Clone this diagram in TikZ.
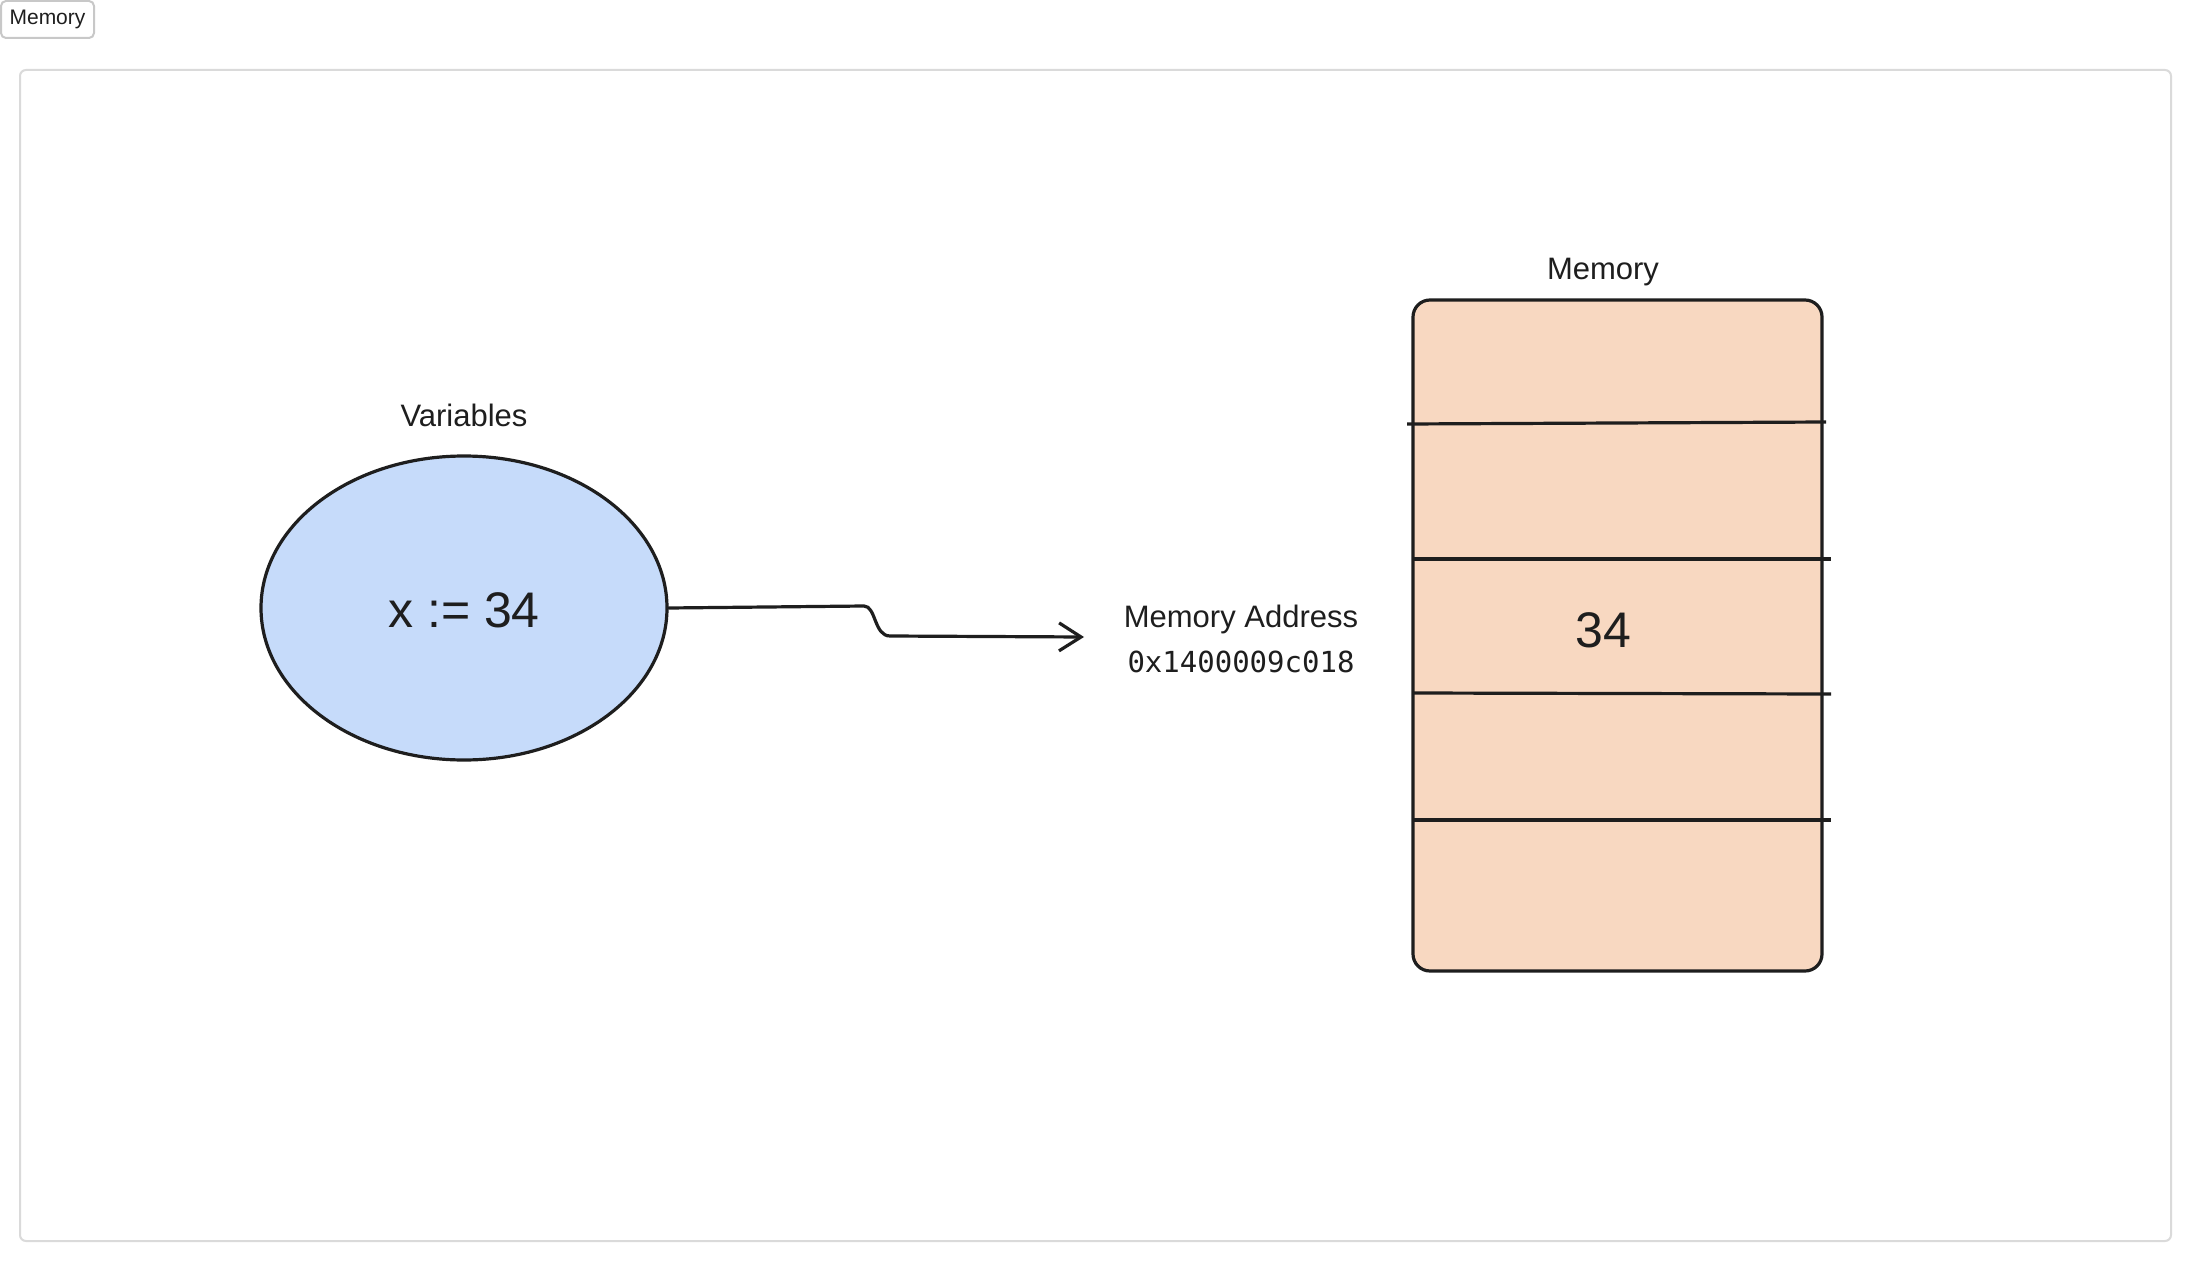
\documentclass[tikz,border=0pt]{standalone}
\usepackage{fontspec}
\setmainfont{Liberation Sans}
\newfontfamily\addrfont{DejaVu Sans Mono}
\usetikzlibrary{shapes.geometric,arrows.meta}
\definecolor{ink}{HTML}{1E1E1E}
\definecolor{varfill}{HTML}{C6DBFA}
\definecolor{memfill}{HTML}{F8D8C1}
\definecolor{framegray}{HTML}{DADADA}
\definecolor{btngray}{HTML}{C8C8C8}
\begin{document}
\begin{tikzpicture}[x=0.5pt,y=-0.5pt,
  sketch/.style={draw=ink, line width=1.6pt},
  lbl/.style={text=ink, font=\fontsize{15.5}{18}\selectfont, anchor=base, inner sep=0pt},
  big/.style={text=ink, font=\fontsize{25}{30}\selectfont, anchor=base, inner sep=0pt}]
\useasboundingbox (0,0) rectangle (2191,1263);
\fill[white] (0,0) rectangle (2191,1263);
% outer frame
\draw[framegray, line width=1pt, rounded corners=3pt] (20,70) rectangle (2171,1241);
% tab button
\node[draw=btngray, line width=1pt, rounded corners=2.5pt, minimum width=46.5pt, minimum height=18.5pt, inner sep=0pt, fill=white, text=ink, font=\fontsize{10.5}{12}\selectfont] (btn) at (47.5,19.5) {Memory};
% variables
\node[lbl] (varlbl) at (464,426) {Variables};
\node[ellipse, sketch, fill=varfill, minimum width=203pt, minimum height=152pt, inner sep=0pt] (var) at (464,608) {};
\node[big] (vartext) at (464,627) {x := 34};
% memory block
\node[lbl] (memlbl) at (1603,279) {Memory};
\node[sketch, fill=memfill, rounded corners=8.5pt, minimum width=204.5pt, minimum height=335.5pt, inner sep=0pt] (mem) at (1617.5,635.5) {};
\draw[sketch] (1407,424) -- (1826,422);
\draw[sketch] (1413,559) -- (1831,559);
\draw[sketch] (1413,693) -- (1831,694);
\draw[sketch] (1413,820) -- (1831,820);
\node[big] (val) at (1603,647) {34};
% address label
\node[lbl] (addr) at (1241,627) {Memory Address};
\node[lbl, font=\addrfont\fontsize{14.5}{17}\selectfont] (addrval) at (1241,672) {0x1400009c018};
% arrow
\coordinate (tip) at (1084,637);
\draw[sketch, line cap=round, -{Straight Barb[length=11pt,width=14pt]}] (var.east) -- (864,606) .. controls (876,606) and (874,636) .. (890,636) -- (tip);
\end{tikzpicture}
\end{document}
